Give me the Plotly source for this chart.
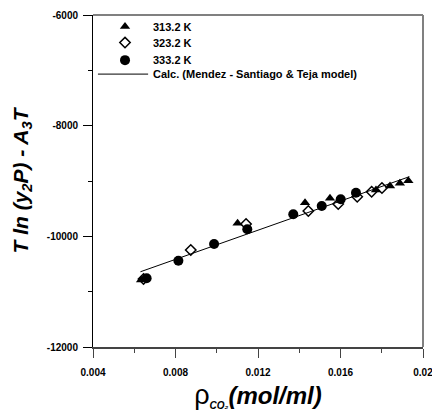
import plotly.graph_objects as go

# Solubility correlation: T ln(y2 P) - A3 T versus CO2 density
rho_313 = [0.00633, 0.01101, 0.01428, 0.01549, 0.01772, 0.01840, 0.01888, 0.01929]
val_313 = [-10789, -9765, -9392, -9313, -9163, -9091, -9042, -8995]

rho_323 = [0.00645, 0.00874, 0.01142, 0.01444, 0.01589, 0.01681, 0.01751, 0.01801]
val_323 = [-10771, -10247, -9777, -9542, -9416, -9284, -9194, -9127]

rho_333 = [0.00660, 0.00814, 0.00987, 0.01148, 0.01371, 0.01509, 0.01601, 0.01675]
val_333 = [-10759, -10441, -10139, -9873, -9602, -9452, -9331, -9212]

# Mendez-Santiago & Teja model (linear in density)
rho_calc = [0.0063, 0.01934]
val_calc = [-10640, -8922]

x_ticks = [0.004, 0.008, 0.012, 0.016, 0.020]
x_tick_text = ["0.004", "0.008", "0.012", "0.016", "0.02"]
y_ticks = [-12000, -10000, -8000, -6000]
y_tick_text = ["-12000", "-10000", "-8000", "-6000"]

legend_labels = ["313.2 K", "323.2 K", "333.2 K", "Calc. (Mendez - Santiago & Teja model)"]

FONT = "Liberation Sans, Arial, sans-serif"

sym_313 = dict(symbol="triangle-up", size=9, color="black", line=dict(width=0))
sym_323 = dict(symbol="diamond-open", size=8, color="black", line=dict(width=1.5, color="black"))
sym_333 = dict(symbol="circle", size=10, color="black", line=dict(width=0))

fig = go.Figure()
fig.add_trace(go.Scatter(x=rho_313, y=val_313, mode="markers", name=legend_labels[0], marker=sym_313))
fig.add_trace(go.Scatter(x=rho_323, y=val_323, mode="markers", name=legend_labels[1], marker=sym_323))
fig.add_trace(go.Scatter(x=rho_333, y=val_333, mode="markers", name=legend_labels[2], marker=sym_333))
fig.add_trace(go.Scatter(x=rho_calc, y=val_calc, mode="lines", name=legend_labels[3],
                         line=dict(color="black", width=1)))

# Key in the upper-left corner, laid out on a unit overlay axis pair
key_x_sym = 0.097
key_x_text = 0.176
key_rows = [0.965, 0.917, 0.864, 0.822]
for sym, row in zip([sym_313, sym_323, sym_333], key_rows[:3]):
    fig.add_trace(go.Scatter(x=[key_x_sym], y=[row], mode="markers", marker=sym,
                             xaxis="x2", yaxis="y2", showlegend=False, hoverinfo="skip"))
fig.add_trace(go.Scatter(x=[0.015, 0.167], y=[key_rows[3], key_rows[3]], mode="lines",
                         line=dict(color="black", width=1),
                         xaxis="x2", yaxis="y2", showlegend=False, hoverinfo="skip"))
for label, row in zip(legend_labels, key_rows):
    fig.add_annotation(x=key_x_text, y=row, xref="x2", yref="y2", text=label,
                       showarrow=False, xanchor="left", yanchor="middle",
                       font=dict(size=11, family=FONT, weight="bold", color="black"))

# gray top and right frame lines
fig.add_shape(type="line", xref="paper", yref="paper", x0=0, x1=1, y0=1, y1=1,
              line=dict(color="#808080", width=2))
fig.add_shape(type="line", xref="paper", yref="paper", x0=1, x1=1, y0=0, y1=1,
              line=dict(color="#808080", width=2))

fig.update_layout(
    width=432, height=412,
    margin=dict(l=93, r=9, t=15, b=65, autoexpand=False),
    paper_bgcolor="white", plot_bgcolor="white",
    font=dict(family=FONT, color="black"),
    showlegend=False,
    xaxis=dict(
        range=[0.004, 0.020], showgrid=False, zeroline=False, automargin=False,
        showline=True, linecolor="#444", linewidth=1.5,
        tickmode="array", tickvals=x_ticks, ticktext=x_tick_text,
        ticks="outside", ticklen=9, tickwidth=1, tickcolor="#444",
        ticklabelstandoff=6, ticklabeloverflow="allow",
        tickfont=dict(size=10, family=FONT, weight="bold"),
        minor=dict(dtick=0.002, tick0=0.004, ticks="outside", ticklen=4, tickcolor="#444"),
        title=dict(
            text="<span style='font-weight:normal;font-style:normal;font-size:27px'>ρ</span>"
                 "<sub><span style='font-size:10px'><i>CO₂</i></span></sub><i>(mol/ml)</i>",
            font=dict(size=24, family=FONT, weight="bold"), standoff=10,
        ),
    ),
    yaxis=dict(
        range=[-12000, -6000], showgrid=False, zeroline=False, automargin=False,
        showline=True, linecolor="black", linewidth=1,
        tickmode="array", tickvals=y_ticks, ticktext=y_tick_text,
        ticks="outside", ticklen=9, tickwidth=1, tickcolor="black",
        ticklabelstandoff=3,
        tickfont=dict(size=10, family=FONT, weight="bold"),
        minor=dict(dtick=1000, tick0=-12000, ticks="outside", ticklen=4, tickcolor="black"),
        title=dict(
            text="<i>T ln (y<sub>2</sub>P) - A<sub>3</sub>T</i>",
            font=dict(size=21, family=FONT, weight="bold"), standoff=12,
        ),
    ),
    xaxis2=dict(overlaying="x", range=[0, 1], visible=False, fixedrange=True),
    yaxis2=dict(overlaying="y", range=[0, 1], visible=False, fixedrange=True),
)

fig.write_html("out.html")
